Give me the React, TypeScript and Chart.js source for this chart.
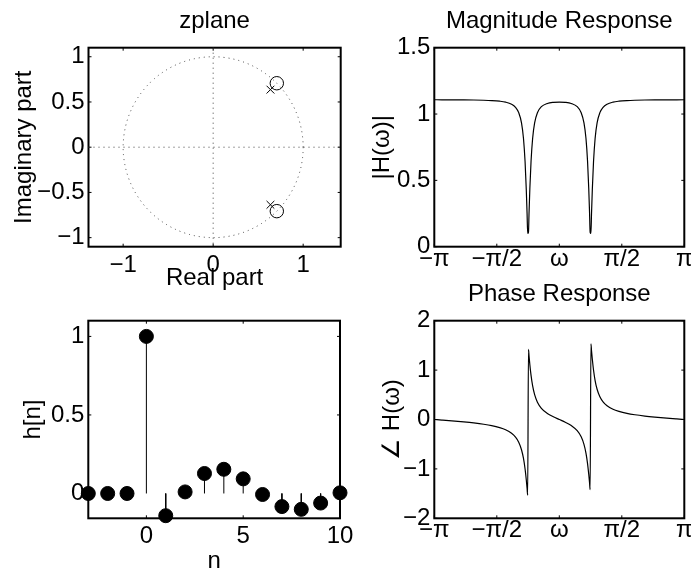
import React, { useEffect, useRef } from "react";
import { Chart, registerables } from "chart.js";

Chart.register(...registerables);

const FONT = "'Liberation Sans', Arial, Helvetica, sans-serif";
const FS = 24;

// ---------- zplane ----------
const ZERO_RE = [0.7071, 0.7071];
const ZERO_IM = [0.7071, -0.7071];
const POLE_RE = [0.6364, 0.6364];
const POLE_IM = [0.6364, -0.6364];
const UNIT_RADIUS = 1;
const ZX_TICKS = [-1, 0, 1];
const ZX_LABELS = ["\u22121", "0", "1"];
const ZY_TICKS = [-1, -0.5, 0, 0.5, 1];
const ZY_LABELS = ["\u22121", "\u22120.5", "0", "0.5", "1"];

// ---------- impulse response ----------
const N = [-3, -2, -1, 0, 1, 2, 3, 4, 5, 6, 7, 8, 9, 10];
const H = [0, 0, 0, 1, -0.1414, 0.01, 0.1273, 0.154, 0.093, -0.0064, -0.0834, -0.101, -0.061, 0.0042];
const NX_TICKS = [0, 5, 10];
const NX_LABELS = ["0", "5", "10"];
const NY_TICKS = [0, 0.5, 1];
const NY_LABELS = ["0", "0.5", "1"];

// ---------- frequency response ----------
const OMEGA = [
  -3.1416, -2.95, -2.7, -2.4, -2.15, -1.9, -1.7, -1.5, -1.35, -1.2, -1.1, -1.02, -0.95, -0.9, -0.86, -0.83,
  -0.81, -0.795, -0.775, -0.76, -0.74, -0.71, -0.67, -0.62, -0.55, -0.45, -0.3, -0.15, 0, 0.15, 0.3, 0.45,
  0.55, 0.62, 0.67, 0.71, 0.74, 0.76, 0.775, 0.795, 0.81, 0.83, 0.86, 0.9, 0.95, 1.02, 1.1, 1.2, 1.35, 1.5,
  1.7, 1.9, 2.15, 2.4, 2.7, 2.95, 3.1416,
];
const MAG = [
  1.1076, 1.1074, 1.1072, 1.1066, 1.1057, 1.104, 1.1015, 1.0968, 1.0898, 1.0743, 1.051, 1.0108, 0.9332, 0.8157,
  0.6402, 0.4318, 0.2519, 0.1005, 0.1088, 0.2595, 0.4382, 0.6444, 0.8176, 0.9336, 1.0101, 1.0553, 1.0797,
  1.0882, 1.0904, 1.0882, 1.0797, 1.0553, 1.0101, 0.9336, 0.8176, 0.6444, 0.4382, 0.2595, 0.1088, 0.1005,
  0.2519, 0.4318, 0.6402, 0.8157, 0.9332, 1.0108, 1.051, 1.0743, 1.0898, 1.0968, 1.1015, 1.104, 1.1057,
  1.1066, 1.1072, 1.1074, 1.1076,
];
const PHASE = [
  0, -0.0118, -0.0279, -0.0492, -0.0701, -0.0964, -0.1244, -0.1648, -0.2085, -0.2795, -0.3587, -0.4608,
  -0.6124, -0.7891, -1.0027, -1.2202, -1.3925, -1.5319, 1.4192, 1.2801, 1.1085, 0.8918, 0.6799, 0.5036,
  0.3511, 0.2275, 0.1225, 0.0549, 0, -0.0549, -0.1225, -0.2275, -0.3511, -0.5036, -0.6799, -0.8918, -1.1085,
  -1.2801, -1.4192, 1.5319, 1.3925, 1.2202, 1.0027, 0.7891, 0.6124, 0.4608, 0.3587, 0.2795, 0.2085, 0.1648,
  0.1244, 0.0964, 0.0701, 0.0492, 0.0279, 0.0118, 0,
];
const W_TICKS = [-Math.PI, -Math.PI / 2, 0, Math.PI / 2, Math.PI];
const W_LABELS = ["\u2212\u03c0", "\u2212\u03c0/2", "\u03c9", "\u03c0/2", "\u03c0"];
const MAG_TICKS = [0, 0.5, 1, 1.5];
const MAG_LABELS = ["0", "0.5", "1", "1.5"];
const PH_TICKS = [-2, -1, 0, 1, 2];
const PH_LABELS = ["\u22122", "\u22121", "0", "1", "2"];

// ---------- helpers ----------
const font = { family: FONT, size: FS };

function axis(o: {
  min: number; max: number; ticks: number[]; labels: string[]; size: number;
  horizontal: boolean; tickPad: number; title?: string; titlePad?: number;
}) {
  return {
    type: "linear",
    min: o.min,
    max: o.max,
    grid: { display: false, drawTicks: false },
    border: { display: false },
    ticks: {
      autoSkip: false,
      maxRotation: 0,
      minRotation: 0,
      padding: o.tickPad,
      color: "#000",
      font,
      callback: (_v: any, i: number) => o.labels[i],
    },
    afterBuildTicks: (s: any) => {
      s.ticks = o.ticks.map((v) => ({ value: v }));
    },
    afterFit: (s: any) => {
      if (o.horizontal) s.height = o.size;
      else s.width = o.size;
      s.paddingLeft = 0;
      s.paddingRight = 0;
      s.paddingTop = 0;
      s.paddingBottom = 0;
    },
    title: o.title
      ? {
          display: true,
          text: o.title,
          color: "#000",
          font,
          padding: o.horizontal ? { top: 0, bottom: o.titlePad } : { top: o.titlePad, bottom: 0 },
        }
      : { display: false },
  };
}

const framePlugin = {
  id: "frame",
  beforeDatasetsDraw(chart: any) {
    const { ctx, chartArea: a, scales } = chart;
    const xs = scales.x;
    const ys = scales.y;
    const L = 3;
    ctx.save();
    ctx.strokeStyle = "#000";
    ctx.lineWidth = 1;
    ctx.beginPath();
    xs.ticks.forEach((t: any) => {
      const p = xs.getPixelForValue(t.value);
      ctx.moveTo(p, a.bottom);
      ctx.lineTo(p, a.bottom - L);
      ctx.moveTo(p, a.top);
      ctx.lineTo(p, a.top + L);
    });
    ys.ticks.forEach((t: any) => {
      const p = ys.getPixelForValue(t.value);
      ctx.moveTo(a.left, p);
      ctx.lineTo(a.left + L, p);
      ctx.moveTo(a.right, p);
      ctx.lineTo(a.right - L, p);
    });
    ctx.stroke();
    ctx.lineWidth = 2;
    ctx.strokeRect(a.left, a.top, a.right - a.left, a.bottom - a.top);
    ctx.restore();
  },
};

const zGuidePlugin = {
  id: "zguides",
  beforeDatasetsDraw(chart: any) {
    const { ctx, chartArea: a, scales } = chart;
    const x = scales.x;
    const y = scales.y;
    const x0 = x.getPixelForValue(0);
    const y0 = y.getPixelForValue(0);
    ctx.save();
    ctx.strokeStyle = "#444";
    ctx.lineWidth = 1;
    ctx.setLineDash([1, 4]);
    ctx.beginPath();
    ctx.moveTo(a.left, y0);
    ctx.lineTo(a.right, y0);
    ctx.moveTo(x0, a.top);
    ctx.lineTo(x0, a.bottom);
    ctx.stroke();
    const rx = x.getPixelForValue(UNIT_RADIUS) - x0;
    const ry = y0 - y.getPixelForValue(UNIT_RADIUS);
    ctx.beginPath();
    ctx.ellipse(x0, y0, rx, ry, 0, 0, Math.PI * 2);
    ctx.stroke();
    ctx.restore();
  },
};

function baseOptions(extra: any) {
  return {
    responsive: false,
    animation: false,
    events: [],
    plugins: {
      legend: { display: false },
      tooltip: { enabled: false },
      title: extra.title
        ? {
            display: true,
            text: extra.title,
            fullSize: false,
            color: "#000",
            font: { family: FONT, size: FS, weight: "normal" },
            padding: extra.titlePad,
          }
        : { display: false },
    },
    layout: { padding: extra.padding },
    scales: { x: extra.x, y: extra.y },
  };
}

function zplaneConfig(): any {
  return {
    type: "scatter",
    data: {
      datasets: [
        {
          data: ZERO_RE.map((r, i) => ({ x: r, y: ZERO_IM[i] })),
          pointStyle: "circle",
          pointRadius: 6.7,
          borderColor: "#000",
          backgroundColor: "rgba(0,0,0,0)",
          borderWidth: 1,
          clip: false,
        },
        {
          data: POLE_RE.map((r, i) => ({ x: r, y: POLE_IM[i] })),
          pointStyle: "crossRot",
          pointRadius: 5.5,
          borderColor: "#000",
          borderWidth: 1,
          clip: false,
        },
      ],
    },
    options: baseOptions({
      title: "zplane",
      titlePad: { top: 7.3, bottom: 11.6 },
      padding: { left: 0, right: 9.3, top: 0, bottom: 0 },
      x: axis({ min: -1.385, max: 1.417, ticks: ZX_TICKS, labels: ZX_LABELS, size: 48.3, horizontal: true, tickPad: 4, title: "Real part", titlePad: 2 }),
      y: axis({ min: -1.1, max: 1.1, ticks: ZY_TICKS, labels: ZY_LABELS, size: 88.5, horizontal: false, tickPad: 4, title: "Imaginary part", titlePad: 10.1 }),
    }),
    plugins: [framePlugin, zGuidePlugin],
  };
}

function curveDataset(ys: number[]) {
  return {
    data: OMEGA.map((w, i) => ({ x: w, y: ys[i] })),
    showLine: true,
    pointRadius: 0,
    borderColor: "#000",
    borderWidth: 1.2,
    cubicInterpolationMode: "monotone",
  };
}

function magConfig(): any {
  return {
    type: "scatter",
    data: { datasets: [curveDataset(MAG)] },
    options: baseOptions({
      title: "Magnitude Response",
      titlePad: { top: 7.3, bottom: 11.6 },
      padding: { left: 0, right: 6.7, top: 0, bottom: 0 },
      x: axis({ min: -Math.PI, max: Math.PI, ticks: W_TICKS, labels: W_LABELS, size: 43.3, horizontal: true, tickPad: -2 }),
      y: axis({ min: 0, max: 1.5, ticks: MAG_TICKS, labels: MAG_LABELS, size: 89.3, horizontal: false, tickPad: 4, title: "|H(\u03c9)|", titlePad: 23.4 }),
    }),
    plugins: [framePlugin],
  };
}

function phaseConfig(): any {
  return {
    type: "scatter",
    data: { datasets: [curveDataset(PHASE)] },
    options: baseOptions({
      title: "Phase Response",
      titlePad: { top: 10.3, bottom: 11.6 },
      padding: { left: 0, right: 6.7, top: 0, bottom: 0 },
      x: axis({ min: -Math.PI, max: Math.PI, ticks: W_TICKS, labels: W_LABELS, size: 50.7, horizontal: true, tickPad: -2 }),
      y: axis({ min: -2, max: 2, ticks: PH_TICKS, labels: PH_LABELS, size: 89.3, horizontal: false, tickPad: 4, title: "\u2220 H(\u03c9)", titlePad: 33.4 }),
    }),
    plugins: [framePlugin],
  };
}

function stemConfig(): any {
  const stems: any[] = [];
  N.forEach((n, i) => {
    stems.push({ x: n, y: 0 }, { x: n, y: H[i] }, { x: n, y: null });
  });
  return {
    type: "scatter",
    data: {
      datasets: [
        {
          data: stems,
          showLine: true,
          spanGaps: false,
          pointRadius: 0,
          borderColor: "#000",
          borderWidth: 1,
          clip: false,
        },
        {
          data: N.map((n, i) => ({ x: n, y: H[i] })),
          pointStyle: "circle",
          pointRadius: 7,
          backgroundColor: "#000",
          borderColor: "#000",
          borderWidth: 1,
          clip: false,
        },
      ],
    },
    options: baseOptions({
      padding: { left: 0, right: 22, top: 50.7, bottom: 0 },
      x: axis({ min: -3, max: 10, ticks: NX_TICKS, labels: NX_LABELS, size: 61.7, horizontal: true, tickPad: 4, title: "n", titlePad: 4.7 }),
      y: axis({ min: -0.158, max: 1.1, ticks: NY_TICKS, labels: NY_LABELS, size: 88.3, horizontal: false, tickPad: 4, title: "h[n]", titlePad: 19.4 }),
    }),
    plugins: [framePlugin],
  };
}

function Panel(props: { left: number; top: number; width: number; height: number; make: () => any }) {
  const ref = useRef<HTMLCanvasElement>(null);
  useEffect(() => {
    const chart = new Chart(ref.current as HTMLCanvasElement, props.make());
    return () => chart.destroy();
  }, []);
  return (
    <canvas
      ref={ref}
      width={props.width}
      height={props.height}
      style={{ position: "absolute", left: props.left, top: props.top, width: props.width, height: props.height }}
    />
  );
}

export default function App() {
  return (
    <div
      style={{
        position: "fixed",
        left: 0,
        top: 0,
        width: 691,
        height: 569,
        overflow: "hidden",
        background: "#fff",
      }}
    >
      <Panel left={0} top={0} width={350} height={295} make={zplaneConfig} />
      <Panel left={345} top={0} width={346} height={290} make={magConfig} />
      <Panel left={0} top={270} width={362} height={310} make={stemConfig} />
      <Panel left={345} top={270} width={346} height={299} make={phaseConfig} />
    </div>
  );
}
